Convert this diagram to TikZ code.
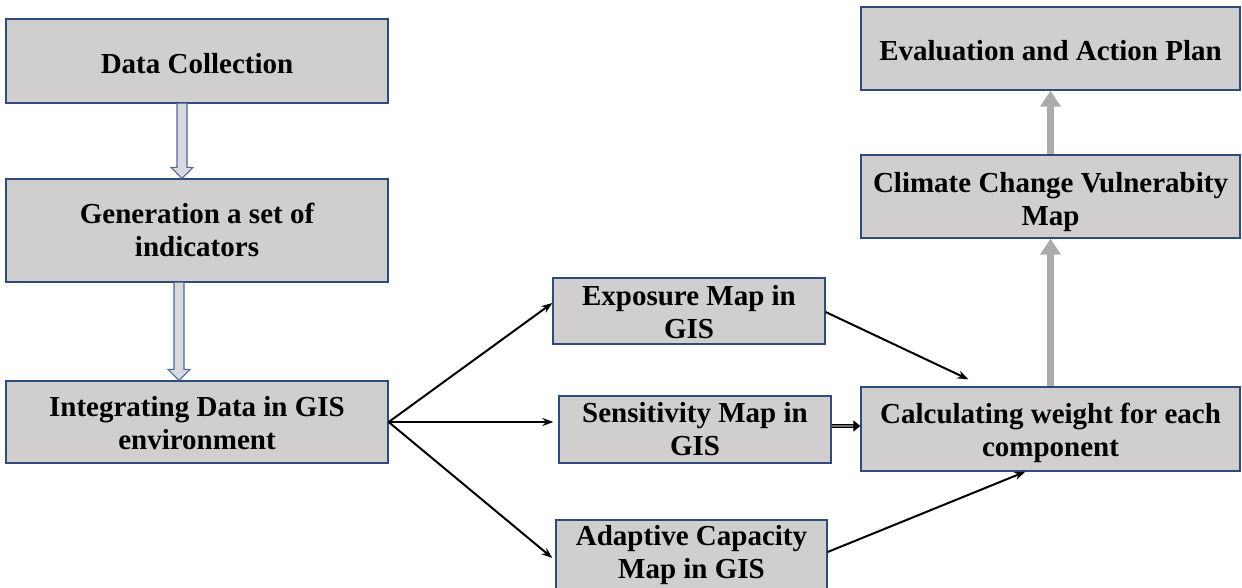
\documentclass[tikz,border=0pt]{standalone}
\usepackage{fontspec}
\setmainfont{Liberation Serif}
\usetikzlibrary{arrows.meta,calc}
\definecolor{boxfill}{HTML}{D0CECE}
\definecolor{boxline}{HTML}{2F4B7C}
\definecolor{blkfill}{HTML}{D9D9DE}
\definecolor{blkline}{HTML}{4A6898}
\definecolor{upgray}{HTML}{ABABAB}
\newcommand{\boxtext}[1]{\begin{tabular}[t]{@{}c@{}}#1\end{tabular}}
\begin{document}
\begin{tikzpicture}[x=1pt,y=-1pt,
  box/.style={draw=boxline, fill=boxfill, line width=1.3pt, inner sep=0pt,
    font=\fontsize{29}{33}\selectfont\bfseries},
  blockarr/.style={draw=blkline, fill=blkfill, line width=1.2pt, line join=miter},
  blackarr/.style={draw=black, line width=2pt, -{Stealth[length=11pt,width=8pt]}},
  dblarr/.style={draw=black, double=black!55, double distance=1.2pt, line width=1.8pt,
    -{Triangle[width=11pt,length=7pt,fill=black]}},
  grayarr/.style={draw=upgray, line width=6.5pt, -{Triangle[width=20pt,length=16pt]}}
]
\useasboundingbox (0,0) rectangle (1242,587);

% boxes
\node[box, minimum width=382pt, minimum height=84pt, text height=28pt, text depth=4pt]
  (dc) at (197,61) {\boxtext{Data Collection}};
\node[box, minimum width=382pt, minimum height=103pt, text height=20pt, text depth=35pt]
  (gen) at (197,230.5) {\boxtext{Generation a set of\\indicators}};
\node[box, minimum width=382pt, minimum height=82pt, text height=20pt, text depth=32pt]
  (integ) at (197,422) {\boxtext{Integrating Data in GIS\\environment}};
\node[box, minimum width=272pt, minimum height=66pt, text height=20pt, text depth=32pt]
  (expo) at (689,311) {\boxtext{Exposure Map in\\GIS}};
\node[box, minimum width=272pt, minimum height=67pt, text height=20pt, text depth=35pt]
  (sens) at (695,429.5) {\boxtext{Sensitivity Map in\\GIS}};
\node[box, minimum width=271pt, minimum height=70pt, text height=20pt, text depth=40pt]
  (adap) at (691.5,555) {\boxtext{Adaptive Capacity\\Map in GIS}};
\node[box, minimum width=379pt, minimum height=84pt, text height=20pt, text depth=32pt]
  (calc) at (1050.5,429) {\boxtext{Calculating weight for each\\component}};
\node[box, minimum width=379pt, minimum height=83pt, text height=20pt, text depth=29pt]
  (clim) at (1050.5,196.5) {\boxtext{Climate Change Vulnerabity\\Map}};
\node[box, minimum width=379pt, minimum height=83pt, text height=27pt, text depth=4pt]
  (eval) at (1050.5,48.5) {\boxtext{Evaluation and Action Plan}};

% hollow block arrows
\coordinate (b1s) at ($(dc.south)+(-15,0)$);
\coordinate (b1e) at ($(gen.north)+(-15,0)$);
\draw[blockarr] ($(b1s)+(-5,0)$) -- ($(b1e)+(-5,-11)$) -- ($(b1e)+(-11,-11)$) -- (b1e)
  -- ($(b1e)+(11,-11)$) -- ($(b1e)+(5,-11)$) -- ($(b1s)+(5,0)$);
\coordinate (b2s) at ($(gen.south)+(-18,0)$);
\coordinate (b2e) at ($(integ.north)+(-18,0)$);
\draw[blockarr] ($(b2s)+(-5,0)$) -- ($(b2e)+(-5,-11)$) -- ($(b2e)+(-11,-11)$) -- (b2e)
  -- ($(b2e)+(11,-11)$) -- ($(b2e)+(5,-11)$) -- ($(b2s)+(5,0)$);

% black arrows
\draw[blackarr] (integ.east) -- ($(expo.west)+(0,-8)$);
\draw[blackarr] (integ.east) -- ([xshift=-5pt]integ.east -| sens.west);
\draw[blackarr] (integ.east) -- ($(adap.west)+(-3,3)$);
\draw[blackarr] ($(expo.east)+(0,1)$) -- ($($(calc.north west)!0.284!(calc.north east)$)+(0,-7)$);
\draw[blackarr] ($(adap.east)+(0,-3)$) -- ($(calc.south west)!0.434!(calc.south east)$);
\coordinate (d1) at ($(sens.east)+(0,-3.5)$);
\draw[dblarr] (d1) -- (d1 -| calc.west);

% gray arrows
\draw[grayarr] (calc.north) -- (clim.south);
\draw[grayarr] (clim.north) -- (eval.south);
\end{tikzpicture}
\end{document}
